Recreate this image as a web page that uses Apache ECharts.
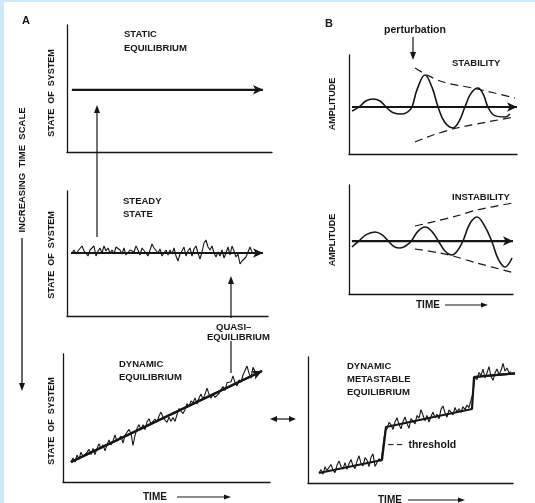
<!DOCTYPE html>
<html>
<head>
<meta charset="utf-8">
<title>Equilibrium and stability</title>
<script src="https://cdn.jsdelivr.net/npm/echarts@6/dist/echarts.min.js"></script>
<style>
  html, body { margin: 0; padding: 0; background: #ffffff; }
  #chart { width: 535px; height: 503px; }
</style>
</head>
<body>
<div id="chart"></div>
<script>
// ---- A: static equilibrium (a constant state over time) ----
const staticSpan = [2.4, 95.6];
const staticLevel = 49;

// ---- A: steady state (fluctuations about a constant mean), one sample per step ----
const steadySpan = [-0.5, 95.5];
const steadyMean = 0;
const steadyState = [
  0, 3, -1, 2, 4, 7, 2, 0, -3, 3, 5, 7, -3, 2, 5, 0, 7, 2, 5, 0,
  3, -1, 6, 8, 3, -1, 5, -2, -4, 3, 5, 1, 7, 3, -2, 5, 7, 0, -3, 3,
  9, 5, 7, 0, 4, -3, -1, 3, -2, 3, -1, 5, -3, -8, -1, 2, 6, -3, 2, 5,
  -3, 4, 7, 0, -6, 1, 10, 13, 6, 3, 7, 0, -4, 1, -3, 3, -5, 0, 6, -2,
  7, 2, -4, -1, -11, -8, -9, -4, 1, 6, 1
];

// ---- A: dynamic equilibrium (fluctuations about a rising mean) ----
const dynamicTrend = [[0, 20], [95.5, 111]];
const dynamicState = [
  20, 24, 19.9, 26.9, 22.8, 29.8, 25.7, 23.7, 29.6, 32.6, 27.5, 33.5, 27.4, 33.4, 38.3, 33.3,
  37.2, 31.2, 37.2, 42.1, 37.1, 41, 47, 40.9, 38.9, 45.8, 38.8, 46.7, 49.7, 52.6, 48.6, 36.5,
  46.5, 53.4, 57.4, 52.4, 57.3, 52.3, 60.2, 63.2, 58.1, 57.1, 63, 60, 65.9, 69.9, 64.8, 61.8,
  59.7, 64.7, 60.7, 64.6, 60.6, 67.5, 73.5, 72.4, 68.4, 72.3, 78.3, 75.2, 81.2, 79.1, 84.1, 78,
  84, 87.9, 82.9, 87.9, 93.8, 87.8, 83.7, 87.7, 84.6, 82.6, 88.5, 92.5, 95.4, 91.4, 99.3, 97.3,
  100.2, 106.2, 99.1, 96.1, 102.1, 100, 107, 105.9, 115.9, 108.8, 103.8, 114.7, 110.7
];

// ---- B: stability (a perturbation that dies away) ----
const stabilityBase = 47.5;
const stabilityWave = [
  [1.8, 43.4], [6, 47.5], [10, 53.5], [14.3, 55.6], [18.5, 53.5], [22, 47.5], [26, 42],
  [31.5, 40.4], [35, 42.5], [37.5, 47.5], [40.5, 65], [45.2, 79.8], [49.5, 67], [53, 47.5],
  [57, 32], [61.9, 26.3], [65.5, 33], [69, 47.5], [72.5, 61], [76.8, 66.7], [80, 60],
  [82.7, 47.5], [86.5, 39], [92.9, 37.4], [95.8, 40.4]
];
const stabilityUpper = [[39.3, 86.9], [46.4, 79.8], [56, 72.7], [76.2, 65.7], [98.8, 56.6]];
const stabilityLower = [[39.3, 12.1], [50, 19.2], [64.3, 26.3], [82.1, 32.3], [98.8, 37.4]];

// ---- B: instability (oscillations that grow) ----
const instabilityBase = 48.6;
const instabilityWave = [
  [1.8, 43.1], [6, 48.6], [10.5, 54.5], [15.9, 56.9], [20, 54.5], [24, 48.6], [27.5, 43.5],
  [31.1, 42.2], [34.5, 44], [38, 48.6], [42, 57.5], [46.3, 61.5], [50.5, 57.5], [54.5, 48.6],
  [58.5, 39.5], [62.8, 35.8], [66, 39.5], [69.5, 48.6], [73.5, 64], [78, 70.6], [82.5, 63],
  [87, 48.6], [91, 32], [95.1, 24.8], [99.4, 33]
];
const instabilityUpper = [[40.2, 62.4], [51.2, 66.1], [67.7, 72.5], [78, 77.1], [100, 83.5]];
const instabilityLower = [[40.2, 41.3], [55.5, 37.6], [63.4, 34.9], [78, 28.4], [101, 19.3]];

// ---- B: dynamic metastable equilibrium (rising mean with two threshold jumps) ----
const metastableTrend = [[0, 10], [31.5, 23], [33.5, 56], [76.5, 74], [77.5, 106], [100, 110]];
const metastableState = [
  10, 13.4, 8.8, 16.2, 12.6, 11.1, 18.5, 12.9, 10.3, 17.7, 22.1, 16.5, 13.9, 20.3, 13.7, 19.2,
  23.6, 17, 14.4, 21.8, 27.2, 19.6, 17, 25.4, 22.8, 16.3, 25.7, 29.1, 16.5, 14.9, 24.3, 21.7,
  23.1, 52,
  54.2, 60.6, 58.1, 53.5, 60.9, 65.3, 58.7, 54.2, 61.6, 66, 59.4, 54.8, 64.3, 62.7, 59.1, 67.5,
  64.9, 73.4, 67.8, 62.2, 67.6, 61, 66.5, 70.9, 65.3, 68.7, 64.1, 73.6, 77, 70.4, 65.8, 73.2,
  70.7, 68.1, 75.5, 70.9, 74.3, 70.8, 76.2, 73.6, 78, 75.4, 73.9, 90,
  106.1, 103.3, 110.5, 107.6, 113.8, 105, 110.2, 116.4, 106.5, 102.7, 109.9, 114.1, 108.3,
  112.4, 119.6, 111.8, 115, 110.2, 111.3
];

const INK = '#161616';
const FONT = '"Liberation Sans", Arial, Helvetica, sans-serif';

const chart = echarts.init(document.getElementById('chart'), null, { renderer: 'canvas' });

function axis(gridIndex, min, max) {
  return {
    type: 'value', gridIndex, min, max,
    axisLine: { show: true, onZero: false, lineStyle: { color: INK, width: 1.3 } },
    axisTick: { show: false }, axisLabel: { show: false }, splitLine: { show: false }
  };
}
function indexed(values, start) {
  return values.map((v, i) => [start + i, v]);
}
function arrowLine(grid, from, to, width) {
  return {
    type: 'line', xAxisIndex: grid, yAxisIndex: grid, clip: false, silent: true,
    data: [from, to], showSymbol: false, lineStyle: { color: INK, width },
    markLine: {
      silent: true, animation: false, symbol: ['none', 'arrow'], symbolSize: [7, 10],
      label: { show: false }, emphasis: { disabled: true },
      lineStyle: { color: INK, width, type: 'solid' },
      data: [[{ coord: from }, { coord: to }]]
    },
    z: 5
  };
}
function wiggle(grid, data, width, extra) {
  return Object.assign({
    type: 'line', xAxisIndex: grid, yAxisIndex: grid, clip: false, silent: true,
    data, showSymbol: false, lineStyle: { color: INK, width }, z: 4
  }, extra || {});
}

// text helpers for the overlay
function label(text, x, y, size) {
  return {
    type: 'text', x, y, silent: true,
    style: { text, fill: INK, font: 'bold ' + size + 'px ' + FONT, align: 'left', verticalAlign: 'middle' }
  };
}
function vlabel(text, x, y, size) {
  return {
    type: 'text', x, y, rotation: Math.PI / 2, silent: true,
    style: { text, fill: INK, font: 'bold ' + size + 'px ' + FONT, align: 'center', verticalAlign: 'middle' }
  };
}
function seg(x1, y1, x2, y2, w) {
  return { type: 'line', silent: true, shape: { x1, y1, x2, y2 }, style: { stroke: INK, lineWidth: w || 1.2 } };
}
function head(x, y, dir, len, half) {
  len = len || 8; half = half || 3;
  let pts;
  if (dir === 'up') pts = [[x, y], [x - half, y + len], [x + half, y + len]];
  else if (dir === 'down') pts = [[x, y], [x - half, y - len], [x + half, y - len]];
  else if (dir === 'right') pts = [[x, y], [x - len, y - half], [x - len, y + half]];
  else pts = [[x, y], [x + len, y - half], [x + len, y + half]];
  return { type: 'polygon', silent: true, shape: { points: pts }, style: { fill: INK } };
}

const dashed = { color: INK, width: 1.2, type: [8, 5] };

const option = {
  animation: false,
  backgroundColor: '#ffffff',
  grid: [
    { left: 67, top: 25, width: 205, height: 127 },   // static
    { left: 67, top: 191, width: 201, height: 125 },  // steady
    { left: 63, top: 354, width: 207, height: 128 },  // dynamic
    { left: 349, top: 55, width: 168, height: 99 },   // stability
    { left: 349, top: 185, width: 164, height: 109 }, // instability
    { left: 308, top: 357, width: 205, height: 126 }  // metastable
  ],
  xAxis: [
    axis(0, 0, 100), axis(1, -2.5, 98), axis(2, -4, 99.5),
    axis(3, 0, 100), axis(4, 0, 100), axis(5, -5.5, 97)
  ],
  yAxis: [
    axis(0, 0, 100), axis(1, -63, 62), axis(2, 0, 128),
    axis(3, 0, 100), axis(4, 0, 100), axis(5, 0, 126)
  ],
  series: [
    // static equilibrium
    arrowLine(0, [staticSpan[0], staticLevel], [staticSpan[1], staticLevel], 2.2),
    // steady state
    wiggle(1, indexed(steadyState, 0), 1.1),
    arrowLine(1, [steadySpan[0], steadyMean], [steadySpan[1], steadyMean], 2.2),
    // dynamic equilibrium
    wiggle(2, indexed(dynamicState, 0), 1.1),
    arrowLine(2, dynamicTrend[0], dynamicTrend[1], 2.2),
    // stability
    arrowLine(3, [1.8, stabilityBase], [100, stabilityBase], 2.2),
    wiggle(3, stabilityWave, 1.6, { smooth: 0.4 }),
    wiggle(3, stabilityUpper, 1.2, { smooth: 0.3, lineStyle: dashed }),
    wiggle(3, stabilityLower, 1.2, { smooth: 0.3, lineStyle: dashed }),
    // instability
    arrowLine(4, [1.8, instabilityBase], [100, instabilityBase], 2.2),
    wiggle(4, instabilityWave, 1.6, { smooth: 0.4 }),
    wiggle(4, instabilityUpper, 1.2, { smooth: 0.3, lineStyle: dashed }),
    wiggle(4, instabilityLower, 1.2, { smooth: 0.3, lineStyle: dashed }),
    // dynamic metastable equilibrium
    wiggle(5, indexed(metastableState, 0), 1.1),
    wiggle(5, metastableTrend, 2.2, { z: 5 }),
    arrowLine(5, metastableTrend[4], metastableTrend[5], 2.2)
  ],
  graphic: [
    // page frame tint
    { type: 'rect', silent: true, shape: { x: 0, y: 0, width: 4, height: 503 }, style: { fill: '#cde8fa' } },
    { type: 'rect', silent: true, shape: { x: 0, y: 0, width: 535, height: 2 }, style: { fill: '#cde8fa' } },

    label('A', 22, 21, 11),
    label('B', 325, 24, 11),

    // column A titles
    label('STATIC', 124, 34, 9.5), label('EQUILIBRIUM', 124, 48, 9.5),
    label('STEADY', 123, 201, 9.5), label('STATE', 123, 214, 9.5),
    label('DYNAMIC', 119, 364, 9.5), label('EQUILIBRIUM', 119, 377, 9.5),
    label('QUASI\u2013', 216, 327, 9.5), label('EQUILIBRIUM', 207, 337, 9.5),
    vlabel('STATE  OF  SYSTEM', 52, 93, 9),
    vlabel('STATE  OF  SYSTEM', 52, 255, 9),
    vlabel('STATE  OF  SYSTEM', 52, 421, 9),
    vlabel('INCREASING  TIME  SCALE', 22, 170, 9.5),

    // column B titles
    { type: 'text', x: 415, y: 30, silent: true,
      style: { text: 'perturbation', fill: INK, font: 'bold 10.5px ' + FONT, align: 'center', verticalAlign: 'middle' } },
    label('STABILITY', 452, 63, 9.5),
    label('INSTABILITY', 452, 197, 9.5),
    vlabel('AMPLITUDE', 333, 104, 9),
    vlabel('AMPLITUDE', 333, 240, 9),
    label('DYNAMIC', 347, 366, 9.5), label('METASTABLE', 347, 379, 9.5), label('EQUILIBRIUM', 347, 392, 9.5),
    label('\u2013 \u2013  threshold', 388, 445, 10.5),

    // time labels
    label('TIME', 143, 497, 10), seg(177, 497, 226, 497, 1.2), head(231, 497, 'right', 7, 2.5),
    label('TIME', 416, 305, 10), seg(445, 305, 483, 305, 1.2), head(488, 305, 'right', 7, 2.5),
    label('TIME', 378, 500, 10), seg(408, 500, 460, 500, 1.2), head(465, 500, 'right', 7, 2.5),

    // connectors
    seg(97, 237, 97, 111, 1.2), head(97, 105, 'up', 8, 3),
    seg(231, 318, 231, 282, 1.2), head(231, 276, 'up', 8, 3),
    seg(231, 341, 231, 373, 1.2),
    seg(22, 238, 22, 384, 1.3), head(22, 391, 'down', 8, 3),
    seg(276, 419, 290, 419, 1.2), head(270, 419, 'left', 7, 3), head(296, 419, 'right', 7, 3),
    seg(413, 37, 413, 54, 1.2), head(413, 60, 'down', 8, 3)
  ]
};

chart.setOption(option);
</script>
</body>
</html>
